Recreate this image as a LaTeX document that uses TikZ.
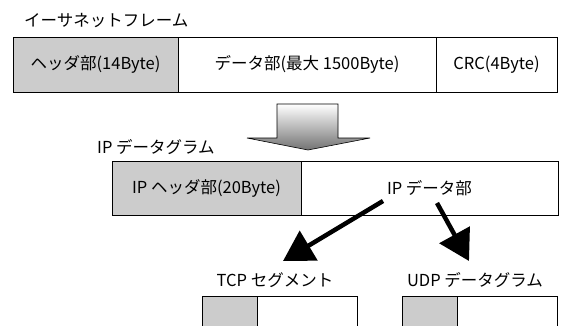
\documentclass[tikz,border=0pt]{standalone}
\usepackage{fontspec}
\setmainfont{Noto Sans CJK JP}
\usetikzlibrary{arrows.meta}

\begin{document}
\begin{tikzpicture}[
    x=1pt, y=-1pt,
    every node/.style={font=\fontsize{16.5}{19}\selectfont},
    fld/.style={rectangle, draw, line width=1pt, inner sep=0pt},
    hd/.style={fld, fill=black!20},
    lbl/.style={inner sep=1pt},
    big/.style={line width=4.5pt, -{Triangle[length=30pt, width=34pt]}},
  ]
  \clip (0,0) rectangle (561,325);
  % Ethernet frame
  \node[lbl, anchor=west] (ethttl) at (23,21) {イーサネットフレーム};
  \node[hd, minimum width=165pt, minimum height=55pt] (ethhdr) at (95.5,64.5) {ヘッダ部(14Byte)};
  \node[fld, minimum width=258pt, minimum height=55pt] (ethdata) at (307,64.5) {データ部(最大 1500Byte)};
  \node[fld, minimum width=121pt, minimum height=55pt] (ethcrc) at (496.5,64.5) {CRC(4Byte)};
  % block arrow
  \shadedraw[top color=white, bottom color=black!55, line width=0.6pt]
    (277,104) -- (338,104) -- (338,138) -- (370,138) -- (308,150)
    -- (247,138) -- (277,138) -- cycle;
  % IP datagram
  \node[lbl, anchor=west] (ipttl) at (96,147) {IP データグラム};
  \node[hd, minimum width=189pt, minimum height=54pt] (iphdr) at (206.5,188) {IP ヘッダ部(20Byte)};
  \node[fld, minimum width=257pt, minimum height=54pt] (ipdata) at (429.5,188) {IP データ部};
  % TCP / UDP
  \coordinate (tcpsrc) at (383,201);
  \coordinate (tcptip) at (283,261);
  \coordinate (udpsrc) at (437,203);
  \coordinate (udptip) at (469,261);
  \draw[big] (tcpsrc) -- (tcptip);
  \draw[big] (udpsrc) -- (udptip);
  \node[lbl] (tcpttl) at (275,280) {TCP セグメント};
  \node[lbl] (udpttl) at (475,280) {UDP データグラム};
  \node[hd, minimum width=55pt, minimum height=60pt] (tcphdr) at (229.5,326) {};
  \node[fld, minimum width=100pt, minimum height=60pt] (tcpdata) at (307,326) {};
  \node[hd, minimum width=55pt, minimum height=60pt] (udphdr) at (429.5,326) {};
  \node[fld, minimum width=100pt, minimum height=60pt] (udpdata) at (507,326) {};
\end{tikzpicture}
\end{document}
